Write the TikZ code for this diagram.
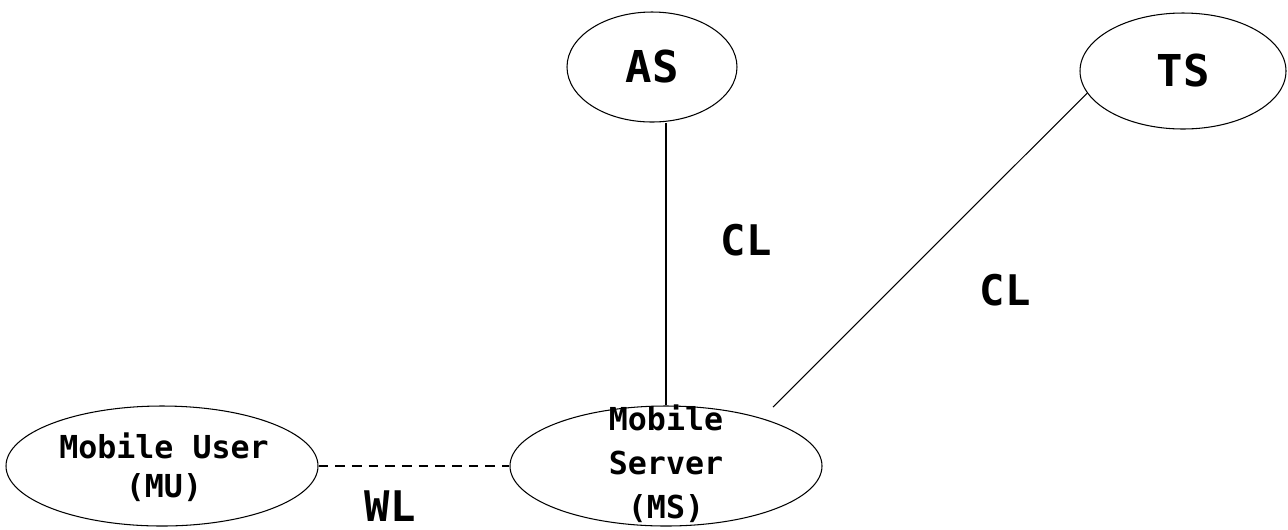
\documentclass[tikz,border=0pt]{standalone}
\usepackage{fontspec}
\setmonofont{DejaVu Sans Mono}
\usetikzlibrary{shapes.geometric}

\begin{document}
\begin{tikzpicture}[x=0.02cm,y=-0.02cm,line width=0.6pt,
    host/.style={ellipse,draw,inner sep=0pt},
    small/.style={font=\ttfamily\bfseries\fontsize{18}{21}\selectfont,align=center},
    big/.style={font=\ttfamily\bfseries\fontsize{25}{30}\selectfont},
    link/.style={font=\ttfamily\bfseries\fontsize{24}{28}\selectfont}]

    \useasboundingbox (0,0) rectangle (1288,529);

    % servers on top
    \node[host,minimum width=170*0.02cm,minimum height=110*0.02cm](AS) at (652,67){};
    \node[big] (astxt) at (AS) {AS};
    \node[host,minimum width=206*0.02cm,minimum height=116*0.02cm](TS) at (1183,71){};
    \node[big] (tstxt) at (TS) {TS};

    % mobile side
    \node[host,minimum width=312*0.02cm,minimum height=120*0.02cm](MU) at (162,466){};
    \node[small] (mutxt) at (164,467) {Mobile User\\[1.5pt](MU)};
    \node[host,minimum width=312*0.02cm,minimum height=120*0.02cm](MS) at (666,466){};
    \node[small] (mstxt) at (666,464) {Mobile\\[4pt]Server\\[4pt](MS)};

    \coordinate (tsend) at (773,407);

    \draw (MS.north) -- (MS.north |- AS.south);
    \draw (tsend) -- (TS.193);
    \draw[dash pattern=on 5.5pt off 4pt] (MU.east) -- (MS.west);

    \node[link] (cl1) at (746,240) {CL};
    \node[link] (cl2) at (1005,290) {CL};
    \node[link] (wl) at (390,506) {WL};
\end{tikzpicture}
\end{document}
